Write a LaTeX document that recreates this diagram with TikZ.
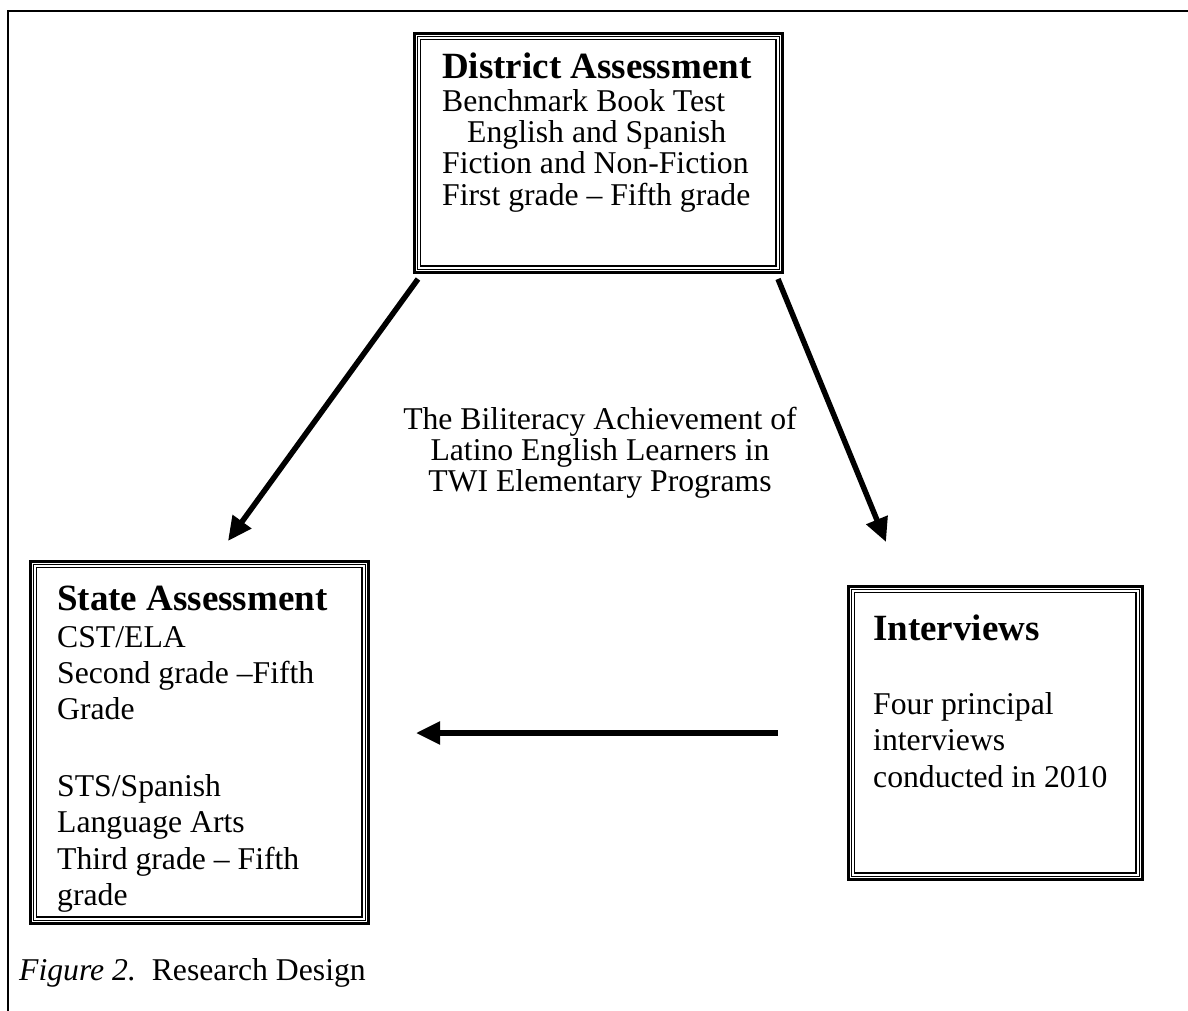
\documentclass[tikz,border=0pt]{standalone}
\usepackage{fontspec}
\setmainfont{Liberation Serif}
\usetikzlibrary{arrows.meta}
\tikzset{
  tribox/.style={draw, line width=2.7pt, inner sep=0pt, anchor=north west},
  inner1/.style={line width=1pt},
  inner2/.style={line width=1.4pt},
  body/.style={inner sep=0pt, anchor=base west, font=\fontsize{31.7}{36}\selectfont},
  ttl/.style={inner sep=0pt, anchor=base west, font=\fontsize{37}{40}\selectfont\bfseries},
  arr/.style={line width=5.5pt, -{Triangle[length=24pt,width=22pt]}},
  frame/.style={line width=2.5pt}
}
\newcommand{\triframe}[1]{%
  \draw[inner1] ([xshift=4.4pt,yshift=-4.4pt]#1.north west) rectangle ([xshift=-4.4pt,yshift=4.4pt]#1.south east);
  \draw[inner2] ([xshift=7.6pt,yshift=-7.6pt]#1.north west) rectangle ([xshift=-7.6pt,yshift=7.6pt]#1.south east);
}
\begin{document}
\begin{tikzpicture}[x=1pt,y=-1pt]
\useasboundingbox (0,0) rectangle (1188,1011);
\fill[white] (0,0) rectangle (1188,1011);
% outer frame
\draw[frame] (8,1012) -- (8,11) -- (1189,11);

% boxes
\node[tribox, minimum width=368pt, minimum height=239pt] (district) at (413,32) {};
\triframe{district}
\node[tribox, minimum width=338pt, minimum height=362pt] (state) at (29,560) {};
\triframe{state}
\node[tribox, minimum width=294pt, minimum height=293pt] (interv) at (847,585) {};
\triframe{interv}

% district text
\node[ttl] (d0) at (442,79) {District Assessment};
\node[body] (d1) at (442,112) {Benchmark Book Test};
\node[body] (d2) at (467,143) {English and Spanish};
\node[body] (d3) at (442,174) {Fiction and Non-Fiction};
\node[body] (d4) at (442,205) {First grade -- Fifth grade};

% state text (clipped to the inner frame)
\begin{scope}
\clip ([xshift=8.4pt,yshift=-8.4pt]state.north west) rectangle ([xshift=-8.4pt,yshift=8.4pt]state.south east);
\node[ttl] (s0) at (57,610) {State Assessment};
\node[body] (s1) at (57,647) {CST/ELA};
\node[body] (s2) at (57,683) {Second grade --Fifth};
\node[body] (s3) at (57,719) {Grade};
\node[body] (s4) at (57,796) {STS/Spanish};
\node[body] (s5) at (57,832) {Language Arts};
\node[body] (s6) at (57,869) {Third grade -- Fifth};
\node[body] (s7) at (57,905) {grade};
\end{scope}

% interviews text
\node[ttl] (i0) at (873,640) {Interviews};
\node[body] (i1) at (873,714) {Four principal};
\node[body] (i2) at (873,750) {interviews};
\node[body] (i3) at (873,787) {conducted in 2010};

% center text
\node[inner sep=0pt, align=center, font=\fontsize{31.7}{31}\selectfont] (title) at (600,453)
  {The Biliteracy Achievement of\\Latino English Learners in\\TWI Elementary Programs};

% caption
\node[body] (cap) at (19,980) {\textit{Figure 2.}\ \ Research Design};

% arrows
\coordinate (a1s) at (418,279);
\coordinate (a1e) at (228,541);
\coordinate (a2s) at (778,279);
\coordinate (a2e) at (886,542);
\coordinate (a3s) at (778,733);
\coordinate (a3e) at (416,733);
\draw[arr] (a1s) -- (a1e);
\draw[arr] (a2s) -- (a2e);
\draw[arr] (a3s) -- (a3e);
\end{tikzpicture}
\end{document}
